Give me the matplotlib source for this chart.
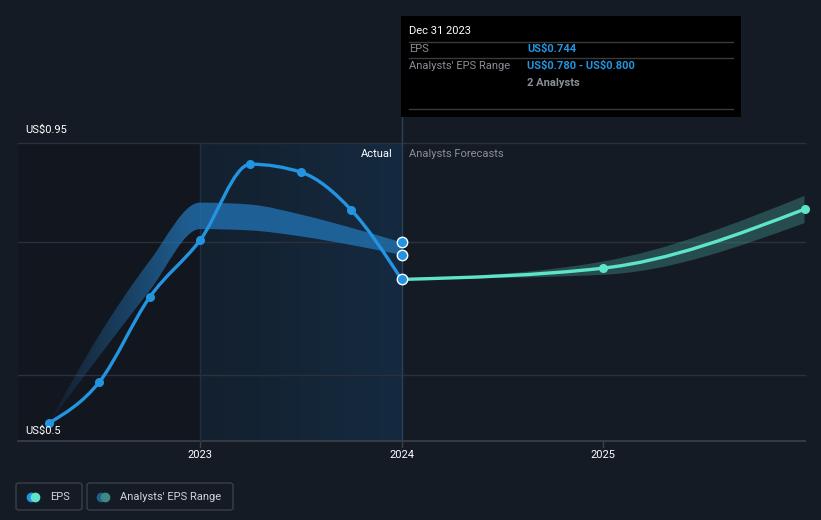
import numpy as np
import matplotlib
matplotlib.use("Agg")
import matplotlib.pyplot as plt
from matplotlib.path import Path
from matplotlib.patches import PathPatch, FancyBboxPatch, Rectangle
import matplotlib.colors as mcolors

plt.rcParams['font.family'] = ['Roboto', 'DejaVu Sans']

# ---------------- data ----------------
actual_dates = [2022.25, 2022.5, 2022.75, 2023.0, 2023.25, 2023.5, 2023.75, 2024.0]
actual_eps = [0.527, 0.589, 0.717, 0.803, 0.918, 0.906, 0.849, 0.744]
past_range_high = [0.527, 0.660, 0.772, 0.860, 0.857, 0.842, 0.822, 0.800]
past_range_low = [0.527, 0.628, 0.727, 0.820, 0.818, 0.809, 0.796, 0.781]

forecast_dates = [2024.0, 2025.0, 2026.0]
forecast_eps = [0.744, 0.761, 0.850]
forecast_low = [0.744, 0.751, 0.829]
forecast_high = [0.744, 0.771, 0.870]

x_ticks = [2023, 2024, 2025]
x_tick_labels = ["2023", "2024", "2025"]
y_label_values = [0.95, 0.5]
y_label_texts = ["US$0.95", "US$0.5"]
y_grid = [0.95, 0.8, 0.6]

tooltip_date = "Dec 31 2023"
tooltip_eps = "US$0.744"
tooltip_range = "US$0.780 - US$0.800"
tooltip_analysts = "2 Analysts"

# ---------------- style ----------------
BG = "#151b24"
LEFT_BG = "#12161e"
BLUE = "#2394df"
TEAL = "#5ee4c8"
GRID = "#2b313b"
AXIS = "#3b414b"
TXT = "#ffffff"
GRAY = "#8a8f96"

W, H = 821, 520
fig = plt.figure(figsize=(W / 100, H / 100), dpi=100, facecolor=BG)
ax = fig.add_axes([0, 0, 1, 1])
ax.set_facecolor(BG)
ax.axis("off")

px_per_year = 201.5
x0_year = 2023 - 200 / px_per_year
x1_year = 2023 + (W - 200) / px_per_year
v_per_px = 0.45 / 298
y_top = 0.95 + 143 * v_per_px
y_bot = 0.95 - (H - 143) * v_per_px


def px_x(p):
    return 2023 + (p - 200) / px_per_year


def px_y(p):
    return 0.95 - (p - 143) * v_per_px


def monotone_segments(xs, ys):
    xs = np.asarray(xs, float)
    ys = np.asarray(ys, float)
    n = len(xs)
    t = np.zeros(n)
    for i in range(1, n - 1):
        h0 = xs[i] - xs[i - 1]
        h1 = xs[i + 1] - xs[i]
        s0 = (ys[i] - ys[i - 1]) / h0
        s1 = (ys[i + 1] - ys[i]) / h1
        p = (s0 * h1 + s1 * h0) / (h0 + h1)
        t[i] = (np.sign(s0) + np.sign(s1)) * min(abs(s0), abs(s1), 0.5 * abs(p))
    h = xs[1] - xs[0]
    t[0] = (3 * (ys[1] - ys[0]) / h - t[1]) / 2
    h = xs[-1] - xs[-2]
    t[-1] = (3 * (ys[-1] - ys[-2]) / h - t[-2]) / 2
    segs = []
    for i in range(n - 1):
        dx = (xs[i + 1] - xs[i]) / 3
        segs.append(((xs[i], ys[i]), (xs[i] + dx, ys[i] + dx * t[i]),
                     (xs[i + 1] - dx, ys[i + 1] - dx * t[i + 1]), (xs[i + 1], ys[i + 1])))
    return segs


def line_path(xs, ys):
    segs = monotone_segments(xs, ys)
    verts = [segs[0][0]]
    codes = [Path.MOVETO]
    for s in segs:
        verts += [s[1], s[2], s[3]]
        codes += [Path.CURVE4] * 3
    return Path(verts, codes)


def band_path(xs, lo, hi):
    su = monotone_segments(xs, hi)
    sl = monotone_segments(xs, lo)
    verts = [su[0][0]]
    codes = [Path.MOVETO]
    for s in su:
        verts += [s[1], s[2], s[3]]
        codes += [Path.CURVE4] * 3
    verts.append(sl[-1][3])
    codes.append(Path.LINETO)
    for s in reversed(sl):
        verts += [s[2], s[1], s[0]]
        codes += [Path.CURVE4] * 3
    verts.append(verts[0])
    codes.append(Path.CLOSEPOLY)
    return Path(verts, codes)


plot_left = px_x(18)
plot_right = px_x(805)

# darker left area
ax.add_patch(Rectangle((plot_left, 0.5), 2023 - plot_left, 0.45, facecolor=LEFT_BG,
                       edgecolor="none", zorder=0))
# highlighted actual period gradient
ncol = 200
grad = np.ones((1, ncol, 4))
c0 = np.array(mcolors.to_rgb("#13202e"))
c1 = np.array(mcolors.to_rgb("#152a40"))
f = np.linspace(0, 1, ncol)
grad[0, :, :3] = c0[None, :] * (1 - f[:, None]) + c1[None, :] * f[:, None]
ax.imshow(grad, extent=(2023, 2024, 0.5, 0.95), aspect="auto", zorder=0.5,
          interpolation="bilinear")

# grid lines
for g in y_grid:
    ax.plot([plot_left, plot_right], [g, g], color=GRID, lw=1, zorder=1)
ax.plot([plot_left, plot_right], [0.5, 0.5], color=AXIS, lw=1.2, zorder=1)
for xt in x_ticks:
    ax.plot([xt, xt], [0.5, px_y(447)], color=AXIS, lw=1, zorder=1)
ax.plot([2023, 2023], [0.5, 0.95], color="#1d3246", lw=1, zorder=1)
ax.plot([2024, 2024], [0.5, px_y(117)], color="#2a4058", lw=1, zorder=1)

# past analyst band with fade-in on the left
past_patch = PathPatch(band_path(actual_dates, past_range_low, past_range_high),
                       facecolor="none", edgecolor="none", zorder=2)
ax.add_patch(past_patch)
band_rgb = np.array(mcolors.to_rgb("#2273b3"))
bimg = np.zeros((1, 400, 4))
bimg[0, :, :3] = band_rgb
xs_img = np.linspace(actual_dates[0], actual_dates[-1], 400)
alpha = np.clip((xs_img - actual_dates[0]) / 0.7, 0, 1)
bimg[0, :, 3] = 0.78 * (0.1 + 0.9 * alpha)
im = ax.imshow(bimg, extent=(actual_dates[0], actual_dates[-1], 0.5, 0.95), aspect="auto",
               zorder=2, interpolation="bilinear")
im.set_clip_path(past_patch)

ax.add_patch(PathPatch(band_path(forecast_dates, forecast_low, forecast_high),
                       facecolor="#3f8a84", edgecolor="none", alpha=0.45, zorder=2))

# lines
ax.add_patch(PathPatch(line_path(actual_dates, actual_eps), facecolor="none",
                       edgecolor=BLUE, lw=2.4, zorder=3, capstyle="round"))
ax.add_patch(PathPatch(line_path(forecast_dates, forecast_eps), facecolor="none",
                       edgecolor=TEAL, lw=2.4, zorder=3, capstyle="round"))

ax.plot(actual_dates[:-1], actual_eps[:-1], "o", color=BLUE, ms=6.5, mew=0, zorder=4)
ax.plot(forecast_dates[1:], forecast_eps[1:], "o", color=TEAL, ms=6.5, mew=0, zorder=4)
ax.plot([actual_dates[-1]] * 3, [past_range_high[-1], past_range_low[-1], actual_eps[-1]],
        "o", color=BLUE, ms=7.5, mec="white", mew=1.0, zorder=5)

ax.set_xlim(x0_year, x1_year)
ax.set_ylim(y_bot, y_top)

# y labels
for v, lab, py in zip(y_label_values, y_label_texts, [130, 431]):
    ax.text(px_x(25), px_y(py), lab, color=TXT, fontsize=8, va="center",
            ha="left", zorder=6, parse_math=False)
# x tick labels
for xt, lab in zip(x_ticks, x_tick_labels):
    ax.text(xt, px_y(455), lab, color=TXT, fontsize=8, ha="center", va="center", zorder=6)

ax.text(px_x(393), px_y(154), "Actual", color=TXT, fontsize=8, ha="right", va="center", zorder=6)
ax.text(px_x(409), px_y(154), "Analysts Forecasts", color=GRAY, fontsize=8, ha="left",
        va="center", zorder=6)

# tooltip
ax.add_patch(Rectangle((px_x(401), px_y(117)), px_x(741) - px_x(401), px_y(16) - px_y(117),
                       facecolor="#000000", edgecolor="none", zorder=7))
for yy in (42, 58, 109):
    ax.plot([px_x(409), px_x(733)], [px_y(yy), px_y(yy)], color="#3a3a3a", lw=1, zorder=8)
ax.text(px_x(409), px_y(31), tooltip_date, color=TXT, fontsize=8, va="center", zorder=8)
ax.text(px_x(409), px_y(49), "EPS", color=GRAY, fontsize=8, va="center", zorder=8)
ax.text(px_x(527), px_y(49), tooltip_eps, color=BLUE, fontsize=8, va="center",
        fontweight="bold", zorder=8, parse_math=False)
ax.text(px_x(409), px_y(66), "Analysts' EPS Range", color=GRAY, fontsize=8, va="center", zorder=8)
ax.text(px_x(527), px_y(66), tooltip_range, color=BLUE, fontsize=8, va="center",
        fontweight="bold", zorder=8, parse_math=False)
ax.text(px_x(527), px_y(83), tooltip_analysts, color=GRAY, fontsize=8, va="center",
        fontweight="bold", zorder=8)


def fx(p):
    return p / W


def fy(p):
    return 1 - p / H


for (l, r) in ((16, 82), (87, 233)):
    fig.patches.append(FancyBboxPatch((fx(l), fy(510)), fx(r) - fx(l), fy(483) - fy(510),
                                      boxstyle="round,pad=0,rounding_size=0.004",
                                      transform=fig.transFigure, facecolor="none",
                                      edgecolor="#3a3f48", lw=1))
legend_items = [("EPS", BLUE, TEAL, 50, 31), ("Analysts' EPS Range", "#1f5f8f", "#3d8a84", 120, 101)]
for lab, ca, cb, tx, cx in legend_items:
    ax.plot([px_x(cx)], [px_y(496.5)], "o", color=ca, ms=7, mew=0, zorder=9, clip_on=False)
    ax.plot([px_x(cx + 4)], [px_y(496.5)], "o", color=cb, ms=7, mew=0, zorder=9, clip_on=False)
    ax.text(px_x(tx), px_y(496.5), lab, color="#d0d3d7", fontsize=8, va="center", zorder=9)

fig.savefig("out.png", dpi=100, facecolor=BG)
